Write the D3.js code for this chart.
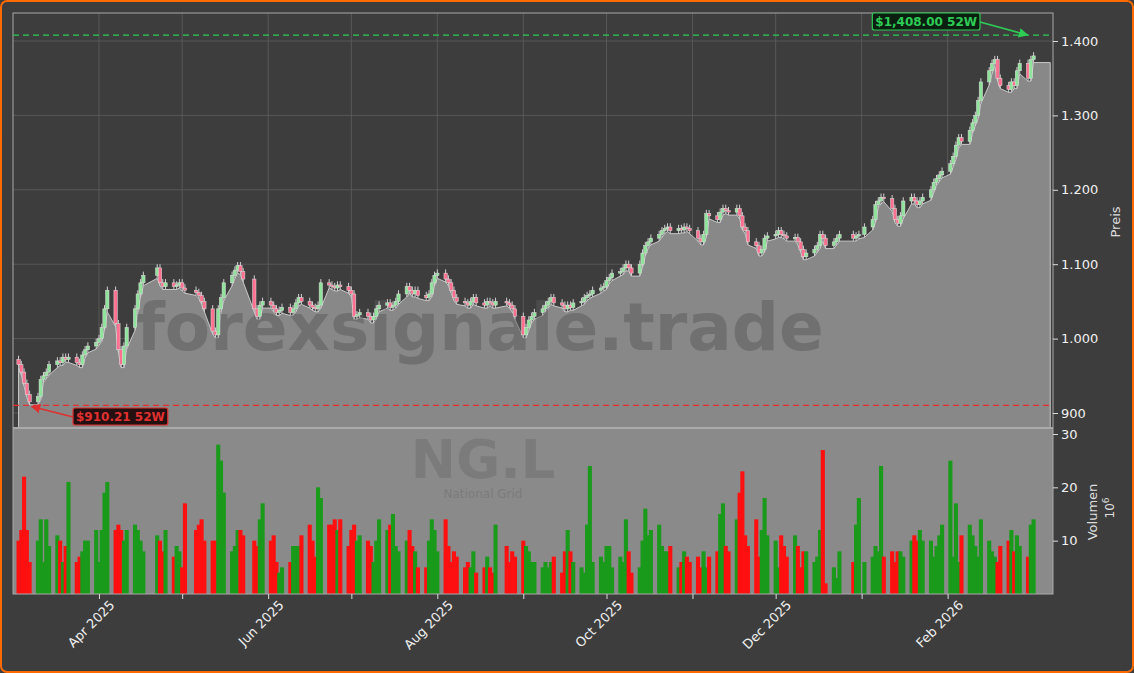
<!DOCTYPE html>
<html><head><meta charset="utf-8">
<script src="https://cdn.jsdelivr.net/npm/d3@7"></script>
<style>
body{margin:0;background:#3d3d3d;}
svg{display:block;font-family:"DejaVu Sans",sans-serif;}
</style></head>
<body><svg id="chart"></svg>
<script>
let width = 1134, height = 673

// daily closes (GBp), from Mar 3 2025
let closes = [965,955,940,925,915,922,945,950,955,965,
970,968,975,972,975,968,965,978,985,990,
995,1000,1015,1040,1065,1020,985,965,990,1015,
1040,1060,1075,1085,1095,1075,1070,1075,1070,1072,
1075,1068,1065,1062,1058,1050,1040,1010,1005,1040,
1055,1075,1085,1092,1098,1090,1080,1040,1030,1045,
1050,1045,1040,1035,1038,1042,1035,1040,1048,1055,
1050,1045,1042,1040,1045,1075,1072,1070,1068,1072,
1070,1065,1060,1030,1032,1035,1030,1025,1030,1040,
1045,1048,1042,1045,1050,1060,1070,1065,1060,1065,
1058,1055,1060,1075,1085,1088,1080,1075,1065,1055,
1050,1048,1045,1050,1055,1048,1045,1050,1048,1045,
1050,1048,1045,1040,1030,1005,1015,1025,1030,1035,
1040,1045,1050,1055,1048,1045,1040,1045,1042,1048,
1050,1055,1058,1060,1065,1068,1070,1078,1082,1088,
1090,1095,1100,1095,1088,1100,1115,1125,1130,1135,
1140,1145,1148,1150,1145,1148,1146,1150,1148,1145,
1135,1130,1140,1168,1165,1160,1170,1175,1172,1170,
1175,1165,1150,1145,1130,1125,1115,1120,1135,1138,
1140,1145,1140,1138,1135,1136,1130,1120,1110,1115,
1120,1125,1140,1135,1125,1130,1135,1140,1135,1138,
1140,1150,1160,1180,1185,1190,1188,1175,1160,1155,
1165,1185,1190,1185,1180,1185,1190,1200,1210,1215,
1220,1225,1235,1245,1260,1270,1265,1280,1290,1300,
1320,1345,1360,1370,1375,1350,1340,1335,1345,1340,
1360,1370,1350,1375,1380]

// volume in millions
let volumes = [10,12,22,12,6,10,14,6,14,9,
11,10,6,9,21,6,7,8,10,10,
12,6,12,19,21,12,13,12,10,12,
13,12,10,8,11,10,8,12,7,9,
8,5,17,12,13,14,10,10,10,28,
25,19,8,9,12,12,11,10,9,14,
17,10,11,6,4,5,6,9,9,9,
11,13,10,7,20,18,13,13,14,12,
14,9,12,13,10,11,10,9,6,10,
14,12,13,15,9,8,10,12,9,8,
5,5,10,14,12,8,14,9,6,8,
7,5,6,5,8,4,5,7,5,4,
13,9,6,8,7,10,9,8,6,6,
5,6,5,6,7,4,8,12,8,6,
5,4,13,24,6,7,6,9,9,5,
7,6,14,8,4,5,10,16,11,12,
13,9,8,8,9,5,6,8,7,6,
7,5,8,5,7,8,15,17,9,8,
14,19,23,11,9,14,7,12,18,11,
10,5,11,9,7,11,9,5,8,8,
6,7,12,27,2,5,3,8,6,13,
18,6,7,9,8,24,7,8,6,8,
8,7,10,11,10,12,10,10,7,9,
11,13,25,7,17,6,11,13,11,9,
7,14,10,8,7,6,9,10,12,8,
11,9,7,13,14]

let yTicks = [900,1000,1100,1200,1300,1400]
let volTicks = [10,20,30]
let monthTicks = ["2025-04-01","2025-06-01","2025-08-01","2025-10-01","2025-12-01","2026-02-01"]
let minorTicks = ["2025-05-01","2025-07-01","2025-09-01","2025-11-01","2026-01-01"]
let holidays = ["2025-04-18","2025-04-21","2025-05-05","2025-05-26","2025-08-25","2025-12-25","2025-12-26","2026-01-01"]
let hi52 = 1408.00, lo52 = 910.21

// trading days
let days = []
let d = new Date(2025, 2, 3)
let iso = t => d3.timeFormat("%Y-%m-%d")(t)
while (days.length < closes.length) {
  if (d.getDay() != 0 && d.getDay() != 6 && !holidays.includes(iso(d))) days.push(new Date(d))
  d.setDate(d.getDate() + 1)
}
let data = closes.map((c, i) => {
  let o = i == 0 ? 972 : closes[i-1]
  let bodyTop = Math.max(o, c), bodyBot = Math.min(o, c)
  return {date: days[i], open: o, close: c, high: bodyTop + 5, low: bodyBot - 4, vol: volumes[i]}
})

let pL = 13, pR = 1053, pT = 13, pS = 428, pB = 594

let svg = d3.select("#chart").attr("width", width).attr("height", height)

svg.append("rect").attr("x", 1).attr("y", 1).attr("width", width-2).attr("height", height-2)
  .attr("rx", 6).attr("fill", "#3d3d3d").attr("stroke", "#ff6a00").attr("stroke-width", 2)

let xScale = d3.scaleTime()
  .domain([new Date(2025, 2, 1), new Date(2026, 2, 11)])
  .range([pL, pR])
let yScale = d3.scaleLinear().domain([1400 + (41-pT)/0.744, 900 - (pS-413)/0.744]).range([pT, pS])
let vScale = d3.scaleLinear().domain([0, 30]).range([pB, 434])

// panels
svg.append("rect").attr("x", pL).attr("y", pT).attr("width", pR-pL).attr("height", pS-pT).attr("fill", "#3d3d3d")
svg.append("rect").attr("x", pL).attr("y", pS).attr("width", pR-pL).attr("height", pB-pS).attr("fill", "#8a8a8a")

// grid
let grid = svg.append("g").attr("stroke", "#5e5e5e").attr("stroke-width", 0.8)
yTicks.forEach(t => grid.append("line").attr("x1", pL).attr("x2", pR).attr("y1", yScale(t)).attr("y2", yScale(t)))
monthTicks.concat(minorTicks).forEach(t => {
  let x = xScale(new Date(t))
  grid.append("line").attr("x1", x).attr("x2", x).attr("y1", pT).attr("y2", pS)
})

// area
let extended = data.concat([{date: new Date(2026, 2, 10), low: data[data.length-1].low}])
let area = d3.area().x(p => xScale(p.date)).y0(pS).y1(p => yScale(p.low))
svg.append("path").datum(extended).attr("d", area).attr("fill", "#888888")
  .attr("stroke", "#c8c8c8").attr("stroke-width", 1)

// watermark
svg.append("text").attr("x", 480).attr("y", 350).attr("text-anchor", "middle")
  .attr("font-size", 66).attr("font-weight", "bold").attr("fill", "#5a5a5a").attr("opacity", 0.5)
  .text("forexsignale.trade")

// candles
let bw = 3.4
let cg = svg.append("g")
cg.selectAll("line").data(data).join("line")
  .attr("x1", p => xScale(p.date)).attr("x2", p => xScale(p.date))
  .attr("y1", p => yScale(p.high)).attr("y2", p => yScale(p.low))
  .attr("stroke", "#d0d0d0").attr("stroke-width", 1)
cg.selectAll("rect").data(data).join("rect")
  .attr("x", p => xScale(p.date) - bw/2).attr("width", bw)
  .attr("y", p => yScale(Math.max(p.open, p.close)))
  .attr("height", p => Math.max(1.5, Math.abs(yScale(p.open) - yScale(p.close))))
  .attr("fill", p => p.close >= p.open ? "#8fe39a" : "#ff6f8f")
  .attr("stroke", "#e0e0e0").attr("stroke-width", 0.5)

// volume
svg.append("text").attr("x", 483).attr("y", 478).attr("text-anchor", "middle")
  .attr("font-size", 54).attr("font-weight", "bold").attr("fill", "#7b7b7b").text("NG.L")
svg.append("text").attr("x", 483).attr("y", 498).attr("text-anchor", "middle")
  .attr("font-size", 12).attr("fill", "#7b7b7b").text("National Grid")
let vw = 4.1
svg.append("g").selectAll("rect").data(data).join("rect")
  .attr("x", p => xScale(p.date) - vw/2).attr("width", vw)
  .attr("y", p => vScale(p.vol)).attr("height", p => vScale(0) - vScale(p.vol))
  .attr("fill", p => p.close >= p.open ? "#1a9a1a" : "#ff1010")

// frames
svg.append("rect").attr("x", pL).attr("y", pT).attr("width", pR-pL).attr("height", pB-pT)
  .attr("fill", "none").attr("stroke", "#aaaaaa").attr("stroke-width", 1)
svg.append("line").attr("x1", pL).attr("x2", pR).attr("y1", pS).attr("y2", pS).attr("stroke", "#aaaaaa").attr("stroke-width", 2)

// 52w lines
let fmt = d3.formatLocale({decimal: ".", thousands: ",", grouping: [3], currency: ["$", ""]}).format("$,.2f")
svg.append("line").attr("x1", pL).attr("x2", pR).attr("y1", yScale(hi52)).attr("y2", yScale(hi52))
  .attr("stroke", "#2ecc55").attr("stroke-width", 1.3).attr("stroke-dasharray", "6,4")
svg.append("line").attr("x1", pL).attr("x2", pR).attr("y1", yScale(lo52)).attr("y2", yScale(lo52))
  .attr("stroke", "#e03030").attr("stroke-width", 1.3).attr("stroke-dasharray", "6,4")

let defs = svg.append("defs")
;[["ag", "#2ecc55"], ["ar", "#e03030"]].forEach(([id, c]) => {
  defs.append("marker").attr("id", id).attr("viewBox", "0 0 10 10").attr("refX", 9).attr("refY", 5)
    .attr("markerWidth", 6).attr("markerHeight", 6).attr("orient", "auto")
    .append("path").attr("d", "M0,0L10,5L0,10z").attr("fill", c)
})
function label(x, y, txt, col, bg, ax, ay, mk) {
  svg.append("line").attr("x1", x).attr("y1", y).attr("x2", ax).attr("y2", ay)
    .attr("stroke", col).attr("stroke-width", 1.6).attr("marker-end", "url(#" + mk + ")")
  let g = svg.append("g")
  let r = g.append("rect")
  let t = g.append("text").attr("font-size", 12).attr("font-weight", "bold").attr("fill", col).text(txt)
  let w = t.node().getComputedTextLength()
  let bx = mk == "ag" ? x - w - 6 : x
  r.attr("x", bx).attr("y", y - 9).attr("width", w + 6).attr("height", 17)
    .attr("rx", 2).attr("fill", bg).attr("stroke", col).attr("stroke-width", 1.2)
  t.attr("x", bx + 3).attr("y", y + 4)
}
label(980, 22, fmt(hi52) + " 52W", "#2ecc55", "#0b1f10", xScale(data[data.length-1].date) - 6, yScale(hi52), "ag")
label(73, 417, fmt(lo52) + " 52W", "#e03030", "#241010", xScale(data[4].date) + 2, yScale(lo52) + 1, "ar")

// axes
let yAxis = d3.axisRight(yScale).tickValues(yTicks).tickSize(5)
  .tickFormat(v => d3.format(",")(v).replace(",", "."))
let ya = svg.append("g").attr("transform", "translate(" + pR + ",0)").call(yAxis)
let va = svg.append("g").attr("transform", "translate(" + pR + ",0)")
  .call(d3.axisRight(vScale).tickValues(volTicks).tickSize(5))
let xa = svg.append("g").attr("transform", "translate(0," + pB + ")")
  .call(d3.axisBottom(xScale).tickValues(monthTicks.map(t => new Date(t))).tickSize(5).tickFormat(d3.timeFormat("%b %Y")))
svg.append("g").attr("transform", "translate(0," + pB + ")")
  .call(d3.axisBottom(xScale).tickValues(minorTicks.map(t => new Date(t))).tickSize(5).tickFormat(""))
  .call(g => g.select(".domain").remove())
  .selectAll("line").attr("stroke", "#dddddd")
;[ya, va, xa].forEach(g => {
  g.select(".domain").remove()
  g.selectAll("line").attr("stroke", "#dddddd")
  g.selectAll("text").attr("fill", "#f0f0f0").attr("font-size", 13).attr("font-family", "DejaVu Sans")
})
xa.selectAll("text").attr("text-anchor", "end").attr("dx", 0).attr("dy", 0)
  .attr("y", 0).attr("transform", "translate(16,12) rotate(-45)")

svg.append("text").attr("transform", "translate(1120,222) rotate(-90)").attr("text-anchor", "middle")
  .attr("fill", "#dddddd").attr("font-size", 13).text("Preis")
svg.append("text").attr("transform", "translate(1097,512) rotate(-90)").attr("text-anchor", "middle")
  .attr("fill", "#dddddd").attr("font-size", 13).text("Volumen")
svg.append("text").attr("transform", "translate(1114,508) rotate(-90)").attr("text-anchor", "middle")
  .attr("fill", "#dddddd").attr("font-size", 12).html("10<tspan dy='-5' font-size='9'>6</tspan>")
</script></body></html>
